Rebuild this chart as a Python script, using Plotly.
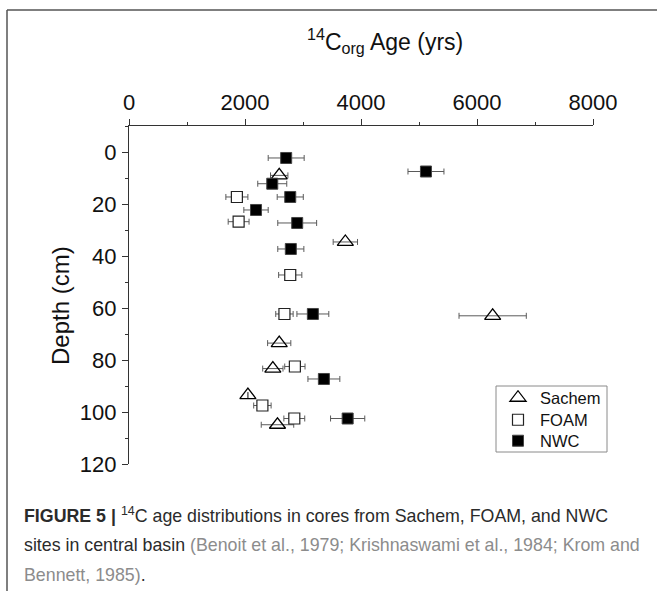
import plotly.graph_objects as go

# ---- data: depth (cm), 14C_org age (yrs) and age uncertainty (yrs) ----
sachem_depth = [9.0, 34.6, 63.0, 73.5, 83.3, 93.5, 104.9]
sachem_age = [2590, 3730, 6270, 2590, 2480, 2050, 2560]
sachem_err = [150, 210, 580, 200, 175, 0, 280]

foam_depth = [17.3, 26.8, 47.3, 62.3, 82.5, 97.5, 102.5]
foam_age = [1860, 1890, 2780, 2680, 2860, 2300, 2850]
foam_err = [190, 180, 200, 150, 175, 150, 180]

nwc_depth = [2.3, 7.5, 12.2, 17.3, 22.3, 27.3, 37.3, 62.3, 87.3, 102.5]
nwc_age = [2710, 5120, 2470, 2780, 2190, 2900, 2790, 3170, 3360, 3770]
nwc_err = [310, 310, 250, 225, 210, 335, 225, 275, 275, 295]

x_ticks = [0, 2000, 4000, 6000, 8000]
y_ticks = [0, 20, 40, 60, 80, 100, 120]

# ---- page geometry (pixels) ----
W, H = 657, 591
L, R, T, B = 129, 64, 126, 127
PW, PH = W - L - R, H - T - B

def px(x):
    return (x - L) / PW

def py(y):
    return (H - B - y) / PH

FONT = "Arial, Liberation Sans, sans-serif"
ERR_COLOR = "#5a5a5a"

def err(vals):
    return dict(type="data", array=vals, visible=True, color=ERR_COLOR,
                thickness=1, width=3)

fig = go.Figure()
fig.add_trace(go.Scatter(
    x=sachem_age, y=sachem_depth, mode="markers", name="Sachem",
    legend="legend", error_x=err(sachem_err),
    marker=dict(symbol="triangle-up-open", size=14, color="black",
                line=dict(width=1.3, color="black")),
))
fig.add_trace(go.Scatter(
    x=foam_age, y=foam_depth, mode="markers", name="FOAM",
    legend="legend2", error_x=err(foam_err),
    marker=dict(symbol="square", size=11, color="white",
                line=dict(width=1.2, color="#222222")),
))
fig.add_trace(go.Scatter(
    x=nwc_age, y=nwc_depth, mode="markers", name="NWC",
    legend="legend3", error_x=err(nwc_err),
    marker=dict(symbol="square", size=11, color="black",
                line=dict(width=1, color="#444444")),
))

fig.update_xaxes(
    range=[0, 8000], side="top", tickvals=x_ticks,
    showgrid=False, zeroline=False,
    showline=True, linecolor="#333333", linewidth=1.2,
    ticks="outside", ticklen=6, tickwidth=1.2, tickcolor="#333333",
    minor=dict(dtick=1000, ticks="outside", ticklen=3, tickcolor="#333333"),
    tickfont=dict(family=FONT, size=22, color="#111111"),
    ticklabelstandoff=0,
)
fig.update_yaxes(
    range=[120, -10], tickvals=y_ticks,
    showgrid=False, zeroline=False,
    showline=True, linecolor="#333333", linewidth=1.2,
    ticks="outside", ticklen=6, tickwidth=1.2, tickcolor="#333333",
    minor=dict(tick0=0, dtick=10, ticks="outside", ticklen=3,
               tickcolor="#333333"),
    tickfont=dict(family=FONT, size=22, color="#111111"),
    ticklabelstandoff=1,
)

CAP = 17.8
annotations = [
    # axis titles
    dict(text="<sup>14</sup>C<sub>org</sub> Age (yrs)", x=px(385), y=py(41),
         xanchor="center", yanchor="middle",
         font=dict(family=FONT, size=23, color="#111111")),
    dict(text="Depth (cm)", x=px(60), y=py(306), textangle=-90,
         xanchor="center", yanchor="middle",
         font=dict(family=FONT, size=24, color="#111111")),
    # caption
    dict(text="<b>FIGURE 5 |</b> <sup>14</sup>C age distributions in cores "
              "from Sachem, FOAM, and NWC",
         x=px(22), y=py(515), xanchor="left", yanchor="middle",
         font=dict(family=FONT, size=CAP, color="#2b2b2b")),
    dict(text="sites in central basin <span style='color:#8c8c8c'>(Benoit et al., "
              "1979; Krishnaswami et al., 1984; Krom and</span>",
         x=px(22), y=py(545), xanchor="left", yanchor="middle",
         font=dict(family=FONT, size=CAP, color="#2b2b2b")),
    dict(text="<span style='color:#8c8c8c'>Bennett, 1985)</span>.",
         x=px(22), y=py(575), xanchor="left", yanchor="middle",
         font=dict(family=FONT, size=CAP, color="#2b2b2b")),
]
for a in annotations:
    a.update(xref="paper", yref="paper", showarrow=False)

shapes = [
    # frame lines around the figure panel
    dict(type="line", xref="paper", yref="paper",
         x0=px(7), x1=px(W + 5), y0=py(10), y1=py(10),
         line=dict(color="#555555", width=1.5)),
    dict(type="line", xref="paper", yref="paper",
         x0=px(7), x1=px(7), y0=py(10), y1=py(H + 5),
         line=dict(color="#555555", width=1.5)),
    # box around the three legend entries
    dict(type="rect", xref="paper", yref="paper",
         x0=px(496), x1=px(607), y0=py(386), y1=py(452),
         line=dict(color="#8a8a8a", width=1), fillcolor="rgba(0,0,0,0)"),
]

def legend_at(ycenter):
    return dict(
        x=px(496), y=py(ycenter), xanchor="left", yanchor="middle",
        borderwidth=0, bgcolor="rgba(0,0,0,0)", itemwidth=34,
        font=dict(family=FONT, size=16.5, color="#111111"),
    )

fig.update_layout(
    width=W, height=H,
    margin=dict(l=L, r=R, t=T, b=B),
    paper_bgcolor="white", plot_bgcolor="white",
    font=dict(family=FONT, color="#111111"),
    showlegend=True,
    legend=legend_at(398),
    legend2=legend_at(420),
    legend3=legend_at(441),
    annotations=annotations,
    shapes=shapes,
)

fig.write_html("out.html")
